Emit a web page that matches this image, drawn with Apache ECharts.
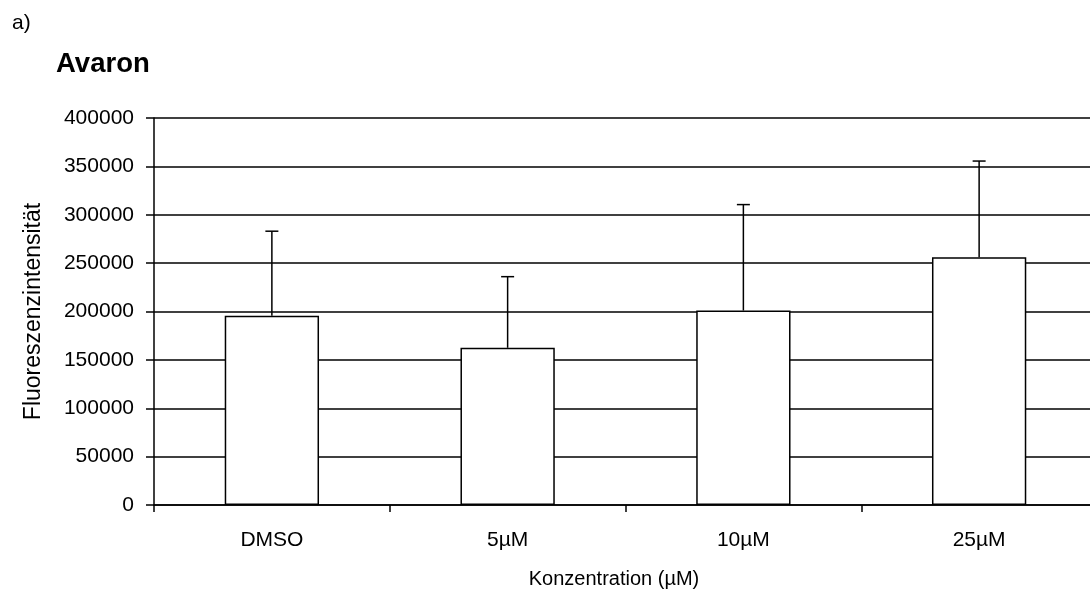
<!DOCTYPE html>
<html><head><meta charset="utf-8">
<script src="https://cdn.jsdelivr.net/npm/echarts@6/dist/echarts.min.js"></script>
<style>html,body{margin:0;padding:0;background:#fff}#c{width:1090px;height:589px}</style>
</head><body><div id="c"></div>
<script>
const categories = ['DMSO', '5µM', '10µM', '25µM'];
const means = [195500, 162500, 201000, 256000];
const errors = [87500, 73500, 109500, 99500];
const yTicks = [0, 50000, 100000, 150000, 200000, 250000, 300000, 350000, 400000];

const FONT = 'Liberation Sans, Arial, sans-serif';
const chart = echarts.init(document.getElementById('c'), null, {renderer: 'canvas'});
chart.setOption({
  animation: false,
  backgroundColor: '#fff',
  title: [
    {text: 'a)', left: 7, top: 8, textStyle: {fontFamily: FONT, fontSize: 21, fontWeight: 'normal', color: '#000'}},
    {text: 'Avaron', left: 51, top: 45, textStyle: {fontFamily: FONT, fontSize: 27.5, fontWeight: 'bold', color: '#000'}}
  ],
  grid: {left: 154, right: -7, top: 118, bottom: 84, containLabel: false, outerBoundsMode: 'none'},
  xAxis: {
    type: 'category', data: categories, boundaryGap: true,
    axisLine: {lineStyle: {color: '#000', width: 1.5}},
    axisTick: {show: true, length: 7, lineStyle: {color: '#000', width: 1.5}},
    axisLabel: {fontFamily: FONT, fontSize: 21, color: '#000', margin: 25},
    name: 'Konzentration (µM)', nameLocation: 'middle', nameGap: 64,
    nameTextStyle: {fontFamily: FONT, fontSize: 20, color: '#000', padding: [0, 23, 0, 0]}
  },
  yAxis: {
    type: 'value', min: 0, max: 400000, interval: 50000,
    axisLine: {show: true, lineStyle: {color: '#000', width: 1.5}},
    axisTick: {show: true, length: 8, lineStyle: {color: '#000', width: 1.5}},
    axisLabel: {fontFamily: FONT, fontSize: 21, color: '#000', margin: 20,
      formatter: v => yTicks.includes(v) ? String(v) : ''},
    splitLine: {show: true, lineStyle: {color: '#000', width: 1.5}},
    name: 'Fluoreszenzintensität', nameLocation: 'middle', nameGap: 109,
    nameTextStyle: {fontFamily: FONT, fontSize: 23, color: '#000'}
  },
  series: [
    {
      type: 'bar', data: means, barWidth: '40%', z: 3,
      itemStyle: {color: '#fff', borderColor: '#000', borderWidth: 1.5}
    },
    {
      type: 'custom', z: 4,
      data: means.map((m, i) => [i, m, m + errors[i]]),
      renderItem: function (params, api) {
        const x = api.value(0);
        const p0 = api.coord([x, api.value(1)]);
        const p1 = api.coord([x, api.value(2)]);
        const half = 6.5;
        const style = {stroke: '#000', lineWidth: 1.5, fill: null};
        return {
          type: 'group',
          children: [
            {type: 'line', shape: {x1: p0[0], y1: p0[1], x2: p1[0], y2: p1[1]}, style: style},
            {type: 'line', shape: {x1: p1[0] - half, y1: p1[1], x2: p1[0] + half, y2: p1[1]}, style: style}
          ]
        };
      }
    }
  ]
});
</script></body></html>
